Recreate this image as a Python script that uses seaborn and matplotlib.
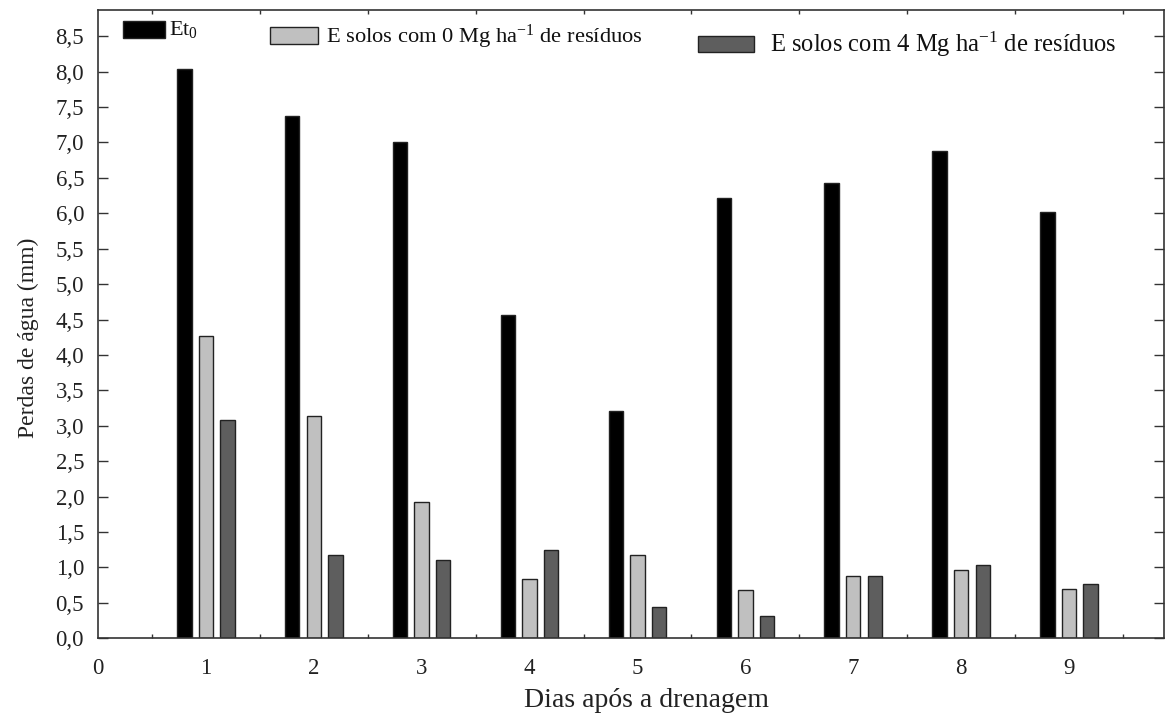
import numpy as np
import pandas as pd
import matplotlib
matplotlib.use("Agg")
import matplotlib.pyplot as plt
from matplotlib.patches import Rectangle
from matplotlib.ticker import FixedLocator, FuncFormatter
import seaborn as sns

# ---- data ----
days = [1, 2, 3, 4, 5, 6, 7, 8, 9]
et0 = [8.04, 7.37, 7.00, 4.57, 3.21, 6.21, 6.43, 6.88, 6.02]
e_0mg = [4.27, 3.14, 1.93, 0.84, 1.18, 0.68, 0.88, 0.97, 0.69]
e_4mg = [3.08, 1.18, 1.11, 1.24, 0.44, 0.32, 0.88, 1.04, 0.76]
series_names = ["Et0", "E0", "E4"]
legend_labels = [r"Et$_0$",
                 r"E solos com 0 Mg ha$^{-1}$ de resíduos",
                 r"E solos com 4 Mg ha$^{-1}$ de resíduos"]
ytick_values = [0.0, 0.5, 1.0, 1.5, 2.0, 2.5, 3.0, 3.5, 4.0, 4.5,
                5.0, 5.5, 6.0, 6.5, 7.0, 7.5, 8.0, 8.5]
xtick_values = [0, 1, 2, 3, 4, 5, 6, 7, 8, 9]

colors = ["#000000", "#c0c0c0", "#5e5e5e"]

df = pd.DataFrame({
    "day": days * 3,
    "value": et0 + e_0mg + e_4mg,
    "series": [series_names[0]] * 9 + [series_names[1]] * 9 + [series_names[2]] * 9,
})

sns.set_style("white")
plt.rcParams["font.family"] = ["Liberation Serif", "DejaVu Serif"]
plt.rcParams["mathtext.fontset"] = "custom"
plt.rcParams["mathtext.rm"] = "Liberation Serif"
plt.rcParams["mathtext.it"] = "Liberation Serif:italic"
plt.rcParams["mathtext.bf"] = "Liberation Serif:bold"

fig = plt.figure(figsize=(11.65, 7.13), dpi=100)
ax = fig.add_axes([98 / 1165, 1 - 638.3 / 713, (1164 - 98) / 1165, (638.3 - 10) / 713])

sns.barplot(data=df, x="day", y="value", hue="series", native_scale=True,
            palette=colors, hue_order=series_names, width=0.6, gap=0.33,
            edgecolor="#222222", linewidth=1.0, errorbar=None, legend=False, ax=ax)

ax.set_xlim(0, 9.88)
ax.set_ylim(0, 8.87)

ax.yaxis.set_major_locator(FixedLocator(ytick_values))
ax.yaxis.set_major_formatter(FuncFormatter(lambda v, p: f"{v:.1f}".replace(".", ",")))
ax.xaxis.set_major_locator(FixedLocator(xtick_values))
ax.xaxis.set_major_formatter(FuncFormatter(lambda v, p: f"{int(round(v))}"))
ax.xaxis.set_minor_locator(FixedLocator([i + 0.5 for i in range(10)]))

ax.tick_params(axis="y", which="major", direction="in", length=7, width=1,
               left=True, right=True, labelsize=16.5, pad=10, colors="#333333",
               labelcolor="#222222")
ax.tick_params(axis="x", which="major", length=0, labelsize=16.5, pad=14,
               labelcolor="#222222")
ax.tick_params(axis="x", which="minor", direction="in", length=3, width=1,
               bottom=True, top=True, colors="#333333")

for s in ax.spines.values():
    s.set_visible(True)
    s.set_color("#333333")
    s.set_linewidth(1.2)

ax.set_xlabel("Dias após a drenagem", fontsize=20, color="#222222", labelpad=7)
ax.xaxis.label.set_x((646 - 98) / 1066)
ax.set_ylabel("Perdas de água (mm)", fontsize=17, color="#222222", labelpad=12)
ax.yaxis.label.set_y((638.3 - 338) / 628.3)

# ---- legend (manual, three separate entries) ----
def px(x, y):
    return (x / 1165, 1 - y / 713)

leg = [
    ((123, 21, 165, 38), (169, 29), 16),
    ((270, 27, 318, 44), (326, 37), 16.2),
    ((698, 36, 754, 52), (770, 44), 17.7),
]
for i, ((x0, y0, x1, y1), (tx, ty), fs) in enumerate(leg):
    lx, ly = px(x0, y1)
    w = (x1 - x0) / 1165
    h = (y1 - y0) / 713
    fig.patches.append(Rectangle((lx, ly), w, h, transform=fig.transFigure,
                                 facecolor=colors[i], edgecolor="#222222", linewidth=1.0))
    fx, fy = px(tx, ty)
    fig.text(fx, fy, legend_labels[i], fontsize=fs, va="center", ha="left", color="#111111")

fig.savefig("out.png", dpi=100)
